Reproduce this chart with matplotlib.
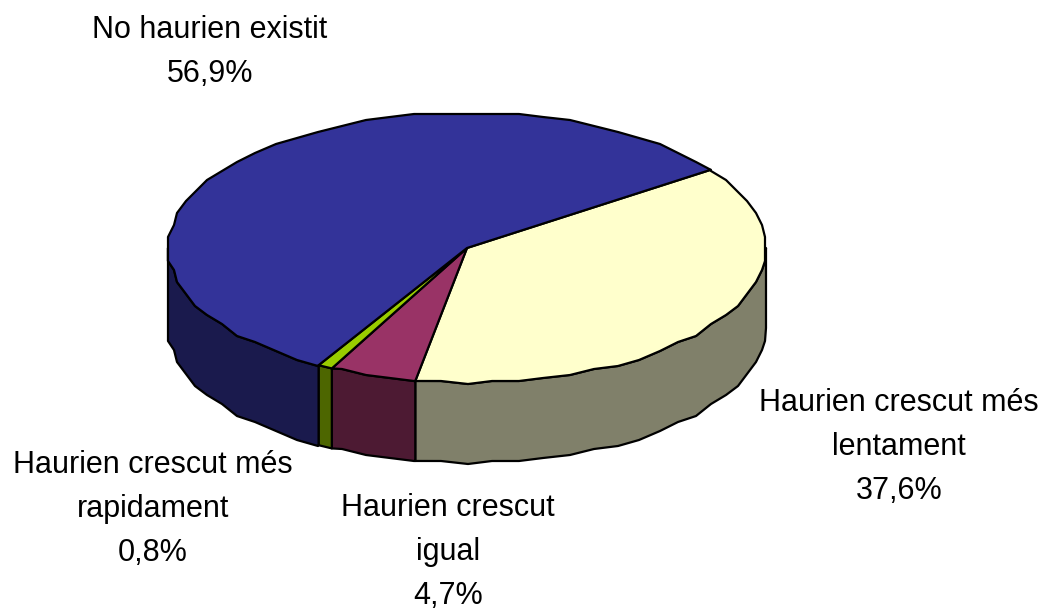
import numpy as np
import matplotlib
matplotlib.use("Agg")
import matplotlib.pyplot as plt

plt.rcParams['font.family'] = ['Liberation Sans', 'DejaVu Sans']

# slices clockwise from the top right edge
names = ["Haurien crescut més\nlentament", "Haurien crescut\nigual", "Haurien crescut més\nrapidament", "No haurien existit"]
values = [37.6, 4.7, 0.8, 56.9]
top_colors = ["#FFFFCC", "#993366", "#99CC00", "#333399"]
side_colors = ["#80806A", "#4D1A33", "#4D6600", "#1A1A4D"]
label_x = [899, 448, 153, 210]
label_y = [447, 552, 509, 52]

cx, cy, rx, ry = 467, 248, 299, 135
depth = 80
start = 35.4
grid = 3  # the outline of the original is coarse and stepped


def rim(a1, a2):
    # a1 > a2, going clockwise, same sample angles for top and side
    steps = np.arange(np.ceil(a2 / 5) * 5, a1, 5)[::-1]
    steps = steps[steps > a2]
    a = np.radians(np.r_[a1, steps, a2])
    x = cx + rx * np.cos(a)
    y = cy - ry * np.sin(a)
    x[1:-1] = np.round(x[1:-1] / grid) * grid
    y[1:-1] = np.round(y[1:-1] / grid) * grid
    return x, y


fig = plt.figure(figsize=(10.41, 6.12), dpi=100)
ax = fig.add_axes([0, 0, 1, 1])
ax.set_xlim(0, 1041)
ax.set_ylim(612, 0)
ax.axis("off")

angles = start - np.cumsum([0] + values) * 3.6

# side wall first, only the part in the lower half shows
for i in range(len(values)):
    a1, a2 = angles[i], angles[i + 1]
    if a1 > -180 and a2 < 0:
        a1, a2 = min(a1, 0), max(a2, -180)
        x, y = rim(a1, a2)
        ax.fill(np.r_[x, x[::-1]], np.r_[y, y[::-1] + depth], facecolor=side_colors[i],
                edgecolor="black", lw=1.6, joinstyle="round")

# top of the pie
for i in range(len(values)):
    x, y = rim(angles[i], angles[i + 1])
    ax.fill(np.r_[cx, x], np.r_[cy, y], facecolor=top_colors[i],
            edgecolor="black", lw=1.6, joinstyle="round")

for i in range(len(values)):
    ax.text(label_x[i], label_y[i], "%s\n%s%%" % (names[i], str(values[i]).replace(".", ",")),
            ha="center", va="center", fontsize=22, linespacing=1.61, color="black")

fig.savefig("out.png", dpi=100)
